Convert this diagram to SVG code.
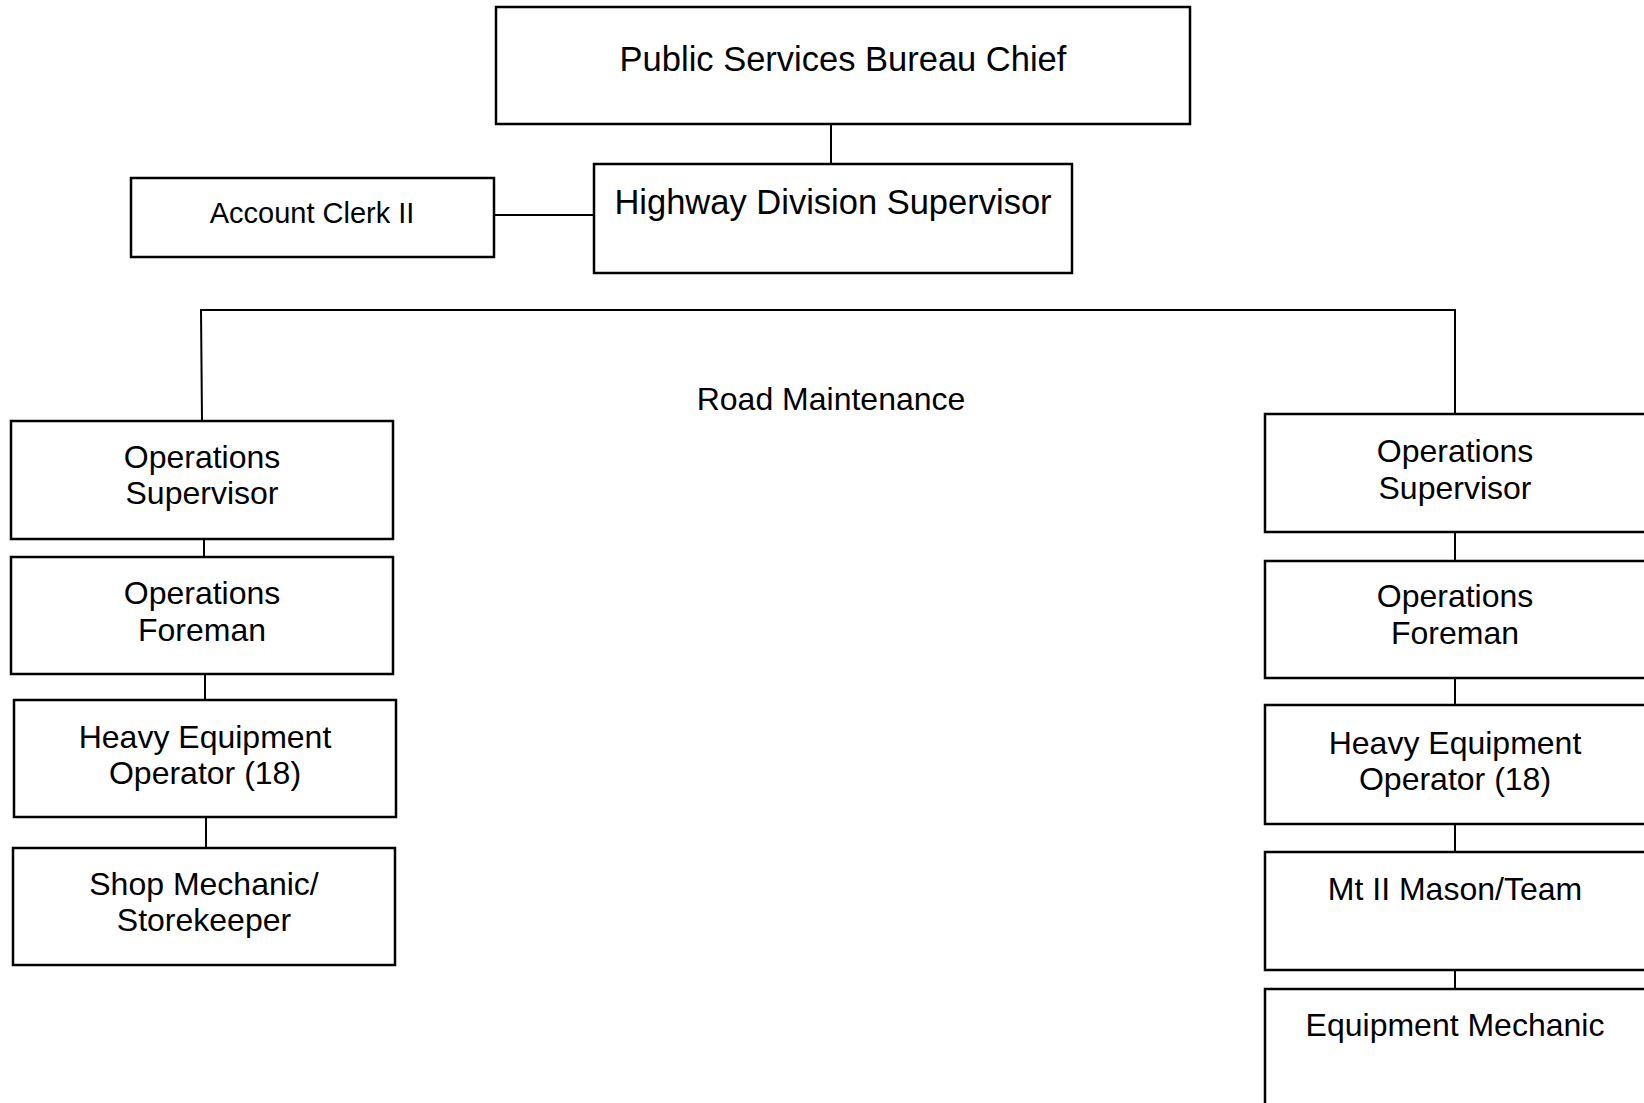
<svg xmlns="http://www.w3.org/2000/svg" width="1644" height="1103" viewBox="0 0 1644 1103">
<style>
.box{fill:#fff;stroke:#000;stroke-width:2.5}
.ln{fill:none;stroke:#000;stroke-width:2}
text{font-family:"Liberation Sans",Arial,sans-serif;fill:#000;text-anchor:middle}
.big{font-size:34.5px}
.mid{font-size:32px}
.sm{font-size:29px}
</style>
<rect width="1644" height="1103" fill="#fff"/>
<g id="connectors">
<line class="ln" x1="831" y1="124" x2="831" y2="164"/>
<line class="ln" x1="494" y1="215" x2="594" y2="215"/>
<polyline class="ln" points="202,421 201,310 1455,310 1455,414"/>
<line class="ln" x1="204" y1="539" x2="204" y2="557"/>
<line class="ln" x1="205" y1="674" x2="205" y2="700"/>
<line class="ln" x1="206" y1="817" x2="206" y2="848"/>
<line class="ln" x1="1455" y1="532" x2="1455" y2="561"/>
<line class="ln" x1="1455" y1="678" x2="1455" y2="705"/>
<line class="ln" x1="1455" y1="824" x2="1455" y2="852"/>
<line class="ln" x1="1455" y1="970" x2="1455" y2="989"/>
</g>
<g id="chief"><rect class="box" x="496" y="7" width="694" height="117"/><text class="big" x="843" y="71">Public Services Bureau Chief</text></g>
<g id="highway"><rect class="box" x="594" y="164" width="478" height="109"/><text class="big" x="833" y="214">Highway Division Supervisor</text></g>
<g id="clerk"><rect class="box" x="131" y="178" width="363" height="79"/><text class="sm" x="312" y="223">Account Clerk II</text></g>
<g id="roadmaint"><text class="mid" x="831" y="410">Road Maintenance</text></g>
<g id="l-opsup"><rect class="box" x="11" y="421" width="382" height="118"/><text class="mid" x="202" y="468">Operations</text><text class="mid" x="202" y="504">Supervisor</text></g>
<g id="l-opfore"><rect class="box" x="11" y="557" width="382" height="117"/><text class="mid" x="202" y="604">Operations</text><text class="mid" x="202" y="641">Foreman</text></g>
<g id="l-heo"><rect class="box" x="14" y="700" width="382" height="117"/><text class="mid" x="205" y="748">Heavy Equipment</text><text class="mid" x="205" y="784">Operator (18)</text></g>
<g id="l-shop"><rect class="box" x="13" y="848" width="382" height="117"/><text class="mid" x="204" y="895">Shop Mechanic/</text><text class="mid" x="204" y="931">Storekeeper</text></g>
<g id="r-opsup"><rect class="box" x="1265" y="414" width="382" height="118"/><text class="mid" x="1455" y="462">Operations</text><text class="mid" x="1455" y="499">Supervisor</text></g>
<g id="r-opfore"><rect class="box" x="1265" y="561" width="382" height="117"/><text class="mid" x="1455" y="607">Operations</text><text class="mid" x="1455" y="644">Foreman</text></g>
<g id="r-heo"><rect class="box" x="1265" y="705" width="382" height="119"/><text class="mid" x="1455" y="754">Heavy Equipment</text><text class="mid" x="1455" y="790">Operator (18)</text></g>
<g id="r-mason"><rect class="box" x="1265" y="852" width="382" height="118"/><text class="mid" x="1455" y="900">Mt II Mason/Team</text></g>
<g id="r-mech"><rect class="box" x="1265" y="989" width="382" height="130"/><text class="mid" x="1455" y="1036">Equipment Mechanic</text></g>
</svg>
